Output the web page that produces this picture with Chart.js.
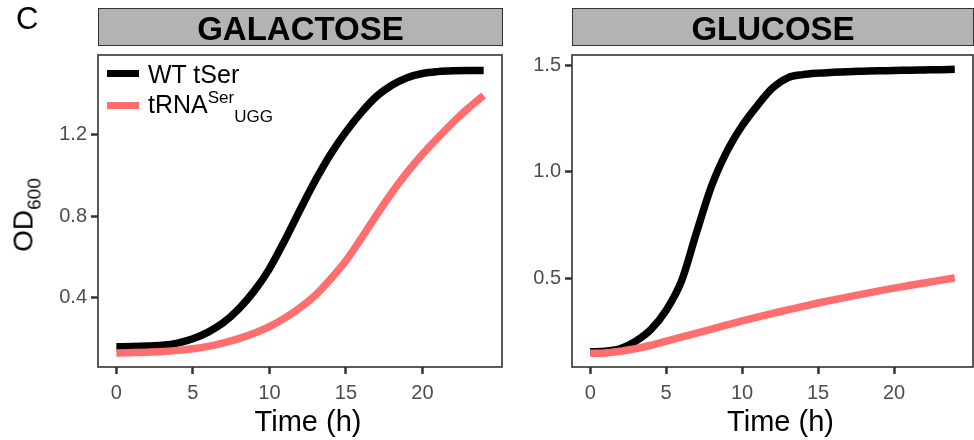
<!DOCTYPE html>
<html>
<head>
<meta charset="utf-8">
<script src="https://cdn.jsdelivr.net/npm/chart.js@4.4.1/dist/chart.umd.min.js"></script>
<style>
  body { margin: 0; background: #fff; font-family: "Liberation Sans", Arial, sans-serif; }
  #wrap { position: relative; width: 974px; height: 440px; overflow: hidden; }
  canvas { position: absolute; top: 0; }
  .strip {
    position: absolute; top: 8px; height: 38px; box-sizing: border-box; padding-top: 2px;
    background: #b3b3b3; border: 1.5px solid #333; color: #000;
    font-weight: bold; font-size: 33px; line-height: 35px; text-align: center;
  }
  #panelTag { position: absolute; left: 16px; top: 3px; font-size: 31px; line-height: 31px; }
  #ylab {
    position: absolute; left: 25px; top: 215px; font-size: 28px; line-height: 28px;
    white-space: nowrap; transform: translate(-50%, -50%) rotate(-90deg);
  }
  #ylab span { font-size: 19px; position: relative; top: 8px; }
  .legLine { position: absolute; left: 107px; width: 32px; height: 7px; }
  .legText { position: absolute; left: 148px; font-size: 25px; line-height: 25px; white-space: nowrap; }
  .legText .sup { font-size: 17px; position: relative; top: -10px; }
  .legText .sub { font-size: 17px; position: relative; top: 9px; }
</style>
</head>
<body>
<div id="wrap">
  <canvas id="galactose" width="510" height="440" style="left:0"></canvas>
  <canvas id="glucose" width="462" height="440" style="left:512px"></canvas>
  <div class="strip" style="left:98px; width:405px">GALACTOSE</div>
  <div class="strip" style="left:572px; width:402px">GLUCOSE</div>
  <div id="panelTag">C</div>
  <div id="ylab">OD<span>600</span></div>
  <div id="legend"></div>
</div>
<script>
// growth curves, one value per hour
const hours = [0, 1, 2, 3, 4, 5, 6, 7, 8, 9, 10, 11, 12, 13, 14, 15, 16, 17, 18, 19, 20, 21, 22, 23, 24];
const galactoseWT  = [0.156, 0.157, 0.159, 0.163, 0.174, 0.195, 0.228, 0.275, 0.343, 0.430, 0.540, 0.680, 0.830, 0.975, 1.105, 1.215, 1.310, 1.390, 1.445, 1.482, 1.503, 1.512, 1.516, 1.517, 1.517];
const galactoseUGG = [0.125, 0.127, 0.129, 0.132, 0.138, 0.146, 0.158, 0.175, 0.196, 0.222, 0.255, 0.297, 0.348, 0.410, 0.490, 0.580, 0.690, 0.805, 0.915, 1.015, 1.105, 1.185, 1.262, 1.332, 1.395];
const glucoseWT    = [0.155, 0.158, 0.170, 0.205, 0.260, 0.350, 0.485, 0.715, 0.935, 1.095, 1.215, 1.310, 1.392, 1.440, 1.455, 1.462, 1.466, 1.469, 1.471, 1.473, 1.474, 1.476, 1.477, 1.478, 1.480];
const glucoseUGG   = [0.148, 0.150, 0.158, 0.170, 0.186, 0.205, 0.224, 0.243, 0.262, 0.281, 0.300, 0.318, 0.335, 0.352, 0.368, 0.384, 0.399, 0.413, 0.427, 0.441, 0.454, 0.466, 0.478, 0.490, 0.502];

const seriesLabels = ['WT tSer', 'tRNA<span class="sup">Ser</span><span class="sub">UGG</span>'];
const seriesColors = ['#000000', '#ff6e6e'];

const xTicks = [0, 5, 10, 15, 20];
const galactoseYTicks = [0.4, 0.8, 1.2];
const glucoseYTicks = [0.5, 1.0, 1.5];

const FONT = '"Liberation Sans", Arial, sans-serif';

// ggplot style box around the panel
const framePlugin = {
    id: 'frame',
    afterDatasetsDraw(chart) {
        const a = chart.chartArea, c = chart.ctx;
        c.save();
        c.strokeStyle = '#333';
        c.lineWidth = 1.6;
        c.strokeRect(a.left, a.top, a.right - a.left, a.bottom - a.top);
        c.restore();
    }
};

function toPoints(values) {
    return hours.map((h, i) => ({ x: h, y: values[i] }));
}

function makePanel(id, wt, ugg, yTicks, yMin, yMax, pad) {
    const tickGrid = { display: true, drawOnChartArea: false, drawTicks: true, tickLength: 7, tickWidth: 2.5, tickColor: '#333' };
    return new Chart(document.getElementById(id), {
        type: 'line',
        data: {
            datasets: [
                { label: 'WT tSer', data: toPoints(wt), borderColor: seriesColors[0], order: 1 },
                { label: 'tRNA Ser UGG', data: toPoints(ugg), borderColor: seriesColors[1], order: 0 }
            ]
        },
        options: {
            responsive: false,
            animation: false,
            devicePixelRatio: 1,
            layout: { padding: pad },
            elements: {
                point: { radius: 0 },
                line: { borderWidth: 7.5, cubicInterpolationMode: 'monotone', borderCapStyle: 'butt', fill: false }
            },
            plugins: { legend: { display: false }, tooltip: { enabled: false } },
            scales: {
                x: {
                    type: 'linear', min: -1.2, max: 25.2,
                    afterBuildTicks: s => { s.ticks = xTicks.map(v => ({ value: v })); },
                    afterFit: s => { s.height = 73; },
                    grid: tickGrid,
                    border: { display: false },
                    ticks: { color: '#4d4d4d', font: { family: FONT, size: 20 }, padding: 7, maxRotation: 0 },
                    // leading spaces nudge the title a little right, as in the figure
                    title: { display: true, text: '\u00a0\u00a0Time (h)', color: '#000', font: { family: FONT, size: 29 }, padding: 0 }
                },
                y: {
                    min: yMin, max: yMax,
                    afterBuildTicks: s => { s.ticks = yTicks.map(v => ({ value: v })); },
                    afterFit: s => { s.width = 40; },
                    grid: tickGrid,
                    border: { display: false },
                    ticks: { color: '#4d4d4d', font: { family: FONT, size: 20 }, padding: 4, callback: v => v.toFixed(1) }
                }
            }
        },
        plugins: [framePlugin]
    });
}

const galChart = makePanel('galactose', galactoseWT, galactoseUGG, galactoseYTicks, 0.056, 1.594, { left: 58, top: 55, right: 8, bottom: 0 });
makePanel('glucose', glucoseWT, glucoseUGG, glucoseYTicks, 0.084, 1.547, { left: 20, top: 55, right: 1, bottom: 0 });

// legend drawn inside the galactose panel
let legendHtml = '';
galChart.data.datasets.forEach((ds, i) => {
    const lineTop = 70 + i * 32;
    const textTop = 62 + i * 30;
    legendHtml += '<div class="legLine" style="top:' + lineTop + 'px;background:' + ds.borderColor + '"></div>';
    legendHtml += '<div class="legText" style="top:' + textTop + 'px">' + seriesLabels[i] + '</div>';
});
document.getElementById('legend').innerHTML = legendHtml;
</script>
</body>
</html>
